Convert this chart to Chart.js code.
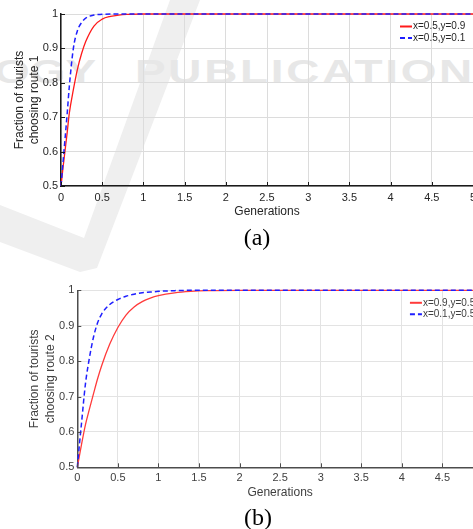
<!DOCTYPE html>
<html>
<head>
<meta charset="utf-8">
<script src="https://cdn.jsdelivr.net/npm/chart.js@4/dist/chart.umd.min.js"></script>
<style>
html, body { margin: 0; padding: 0; background: #fff; overflow: hidden; }
#page { position: relative; width: 473px; height: 529px; overflow: hidden; }
.mark { position: absolute; color: #e7e7e7; font-family: "Liberation Sans", Arial, sans-serif; font-weight: bold; white-space: nowrap; transform-origin: 0 0; }
.panel { position: absolute; left: 0; }
.caption { position: absolute; font-family: "Liberation Serif", "Times New Roman", serif; font-size: 24px; color: #000; transform: translate(-50%, -50%); line-height: 1; }
</style>
</head>
<body>
<div id="page">
  <svg class="mark" width="473" height="300" style="left:0;top:0">
    <polygon points="170,0 200,0 97,268 80,272 0,242 0,205 84,238" fill="#efefef"/>
  </svg>
  <div class="mark" style="left:-6px;top:52px;font-size:34px;transform:scaleX(1.35)">OGY</div>
  <div class="mark" style="left:135px;top:52px;font-size:34px;letter-spacing:2px;transform:scaleX(1.35)">PUBLICATION</div>

  <div class="panel" style="top:0;width:490px;height:225px"><canvas id="route1" width="490" height="225"></canvas></div>
  <div class="panel" style="top:270px;width:490px;height:235px"><canvas id="route2" width="490" height="235"></canvas></div>

  <div class="caption" style="left:257px;top:237px">(a)</div>
  <div class="caption" style="left:258px;top:517px">(b)</div>
</div>
<script>
// panel (a): fraction choosing route 1
const genA = [0, 0.025, 0.05, 0.075, 0.1, 0.15, 0.2, 0.25, 0.3, 0.4, 0.5, 0.6, 0.7, 0.8, 1, 1.5, 2, 3, 4, 5];
const route1_x05_y09 = [0.5, 0.555, 0.605, 0.655, 0.71, 0.78, 0.84, 0.885, 0.92, 0.965, 0.985, 0.993, 0.997, 0.999, 1, 1, 1, 1, 1, 1];
const route1_x05_y01 = [0.5, 0.57, 0.64, 0.71, 0.787, 0.9, 0.952, 0.975, 0.988, 0.997, 0.999, 1, 1, 1, 1, 1, 1, 1, 1, 1];
const labelsA = ['x=0.5,y=0.9', 'x=0.5,y=0.1'];

// panel (b): fraction choosing route 2
const genB = [0, 0.025, 0.05, 0.1, 0.15, 0.2, 0.25, 0.3, 0.4, 0.5, 0.6, 0.7, 0.8, 0.9, 1, 1.2, 1.4, 1.6, 2, 3, 4, 5];
const route2_x09_y05 = [0.5, 0.531, 0.562, 0.62, 0.665, 0.708, 0.75, 0.787, 0.848, 0.895, 0.93, 0.953, 0.968, 0.978, 0.985, 0.993, 0.997, 0.999, 1, 1, 1, 1];
const route2_x01_y05 = [0.5, 0.562, 0.62, 0.735, 0.81, 0.868, 0.908, 0.933, 0.96, 0.974, 0.983, 0.989, 0.993, 0.995, 0.997, 0.999, 1, 1, 1, 1, 1, 1];
const labelsB = ['x=0.9,y=0.5', 'x=0.1,y=0.5'];

const xTicks = [0, 0.5, 1, 1.5, 2, 2.5, 3, 3.5, 4, 4.5, 5];
const yTicks = [0.5, 0.6, 0.7, 0.8, 0.9, 1];

const FONT = '"Liberation Sans", Arial, sans-serif';

let to_points = function(xs, ys) {
    return xs.map((x, i) => ({x: x, y: ys[i]}));
};

// inward tick marks plus a borderless legend in the top right corner
let matlab_axes = {
    id: 'matlab_axes',
    afterDatasetsDraw(chart, args, opts) {
        let ctx = chart.ctx;
        let area = chart.chartArea;
        let xs = chart.scales.x, ys = chart.scales.y;
        ctx.save();
        ctx.strokeStyle = opts.axis;
        ctx.lineWidth = 1;
        ctx.beginPath();
        xs.ticks.forEach(t => {
            let px = Math.round(xs.getPixelForValue(t.value)) + 0.5;
            ctx.moveTo(px, area.bottom);
            ctx.lineTo(px, area.bottom - 4);
        });
        ys.ticks.forEach(t => {
            let py = Math.round(ys.getPixelForValue(t.value)) + 0.5;
            ctx.moveTo(area.left, py);
            ctx.lineTo(area.left + 4, py);
        });
        ctx.stroke();

        ctx.font = '10px ' + FONT;
        ctx.textBaseline = 'middle';
        chart.data.datasets.forEach((ds, i) => {
            let y = area.top + 12.5 + i * 11.5;
            let x0 = area.right - 73;
            ctx.strokeStyle = ds.borderColor;
            ctx.lineWidth = 2;
            ctx.setLineDash(ds.borderDash || []);
            ctx.beginPath();
            ctx.moveTo(x0, y);
            ctx.lineTo(x0 + 12, y);
            ctx.stroke();
            ctx.setLineDash([]);
            ctx.fillStyle = opts.text;
            ctx.fillText(ds.label, x0 + 13, y);
        });
        ctx.restore();
    }
};

let make_panel = function(canvas_id, route_no, gens, red_data, blue_data, labels, look) {
    let ctx = document.getElementById(canvas_id).getContext('2d');
    return new Chart(ctx, {
        type: 'line',
        data: {
            datasets: [{
                label: labels[0],
                data: to_points(gens, red_data),
                borderColor: look.red,
                borderWidth: 1.3,
                pointRadius: 0,
                cubicInterpolationMode: 'monotone',
                order: 1,
                clip: 4,
            }, {
                label: labels[1],
                data: to_points(gens, blue_data),
                borderColor: '#1f1fff',
                borderWidth: 1.5,
                borderDash: [5, 3],
                pointRadius: 0,
                cubicInterpolationMode: 'monotone',
                order: 0,
                clip: 4,
            }],
        },
        options: {
            responsive: false,
            animation: false,
            events: [],
            layout: {
                autoPadding: false,
                padding: {top: look.top, right: look.right, left: 0, bottom: 0},
            },
            plugins: {
                legend: {display: false},
                tooltip: {enabled: false},
                matlab_axes: {axis: look.axis, text: look.text},
            },
            scales: {
                x: {
                    type: 'linear',
                    min: 0,
                    max: 5,
                    afterBuildTicks: s => { s.ticks = xTicks.map(v => ({value: v})); },
                    afterFit: s => { s.height = look.xHeight; },
                    grid: {color: look.grid, drawTicks: false},
                    border: {color: look.axis, width: 1.5},
                    ticks: {
                        padding: look.xPad,
                        color: look.text,
                        font: {family: FONT, size: 11},
                        maxRotation: 0,
                        autoSkip: false,
                        callback: v => String(v),
                    },
                    title: {
                        display: true,
                        text: 'Generations',
                        color: look.text,
                        font: {family: FONT, size: 12, lineHeight: 1.2},
                        padding: {top: 0, bottom: look.xTitlePad},
                    },
                },
                y: {
                    type: 'linear',
                    min: 0.5,
                    max: 1,
                    afterBuildTicks: s => { s.ticks = yTicks.map(v => ({value: v})); },
                    afterFit: s => { s.width = look.yWidth; },
                    grid: {color: look.grid, drawTicks: false},
                    border: {color: look.axis, width: 1.5},
                    ticks: {
                        padding: 3,
                        color: look.text,
                        font: {family: FONT, size: 11},
                        callback: v => String(v),
                    },
                    title: {
                        display: true,
                        text: ['Fraction of tourists', 'choosing route ' + route_no],
                        color: look.text,
                        font: {family: FONT, size: 12, lineHeight: 1.3},
                        padding: {top: look.yTitlePad, bottom: 0},
                    },
                },
            },
        },
        plugins: [matlab_axes],
    });
};

make_panel('route1', 1, genA, route1_x05_y09, route1_x05_y01, labelsA, {
    red: '#ff1a1a', grid: '#dcdcdc', axis: '#1a1a1a', text: '#262626',
    top: 14, right: 17, xHeight: 39, yWidth: 61, xPad: 5, xTitlePad: 6, yTitlePad: 11.7,
});

make_panel('route2', 2, genB, route2_x09_y05, route2_x01_y05, labelsB, {
    red: '#ff3b3b', grid: '#e3e3e3', axis: '#4d4d4d', text: '#404040',
    top: 20.3, right: 6, xHeight: 37.7, yWidth: 77.3, xPad: 4, xTitlePad: 5, yTitlePad: 27.2,
});
</script>
</body>
</html>
